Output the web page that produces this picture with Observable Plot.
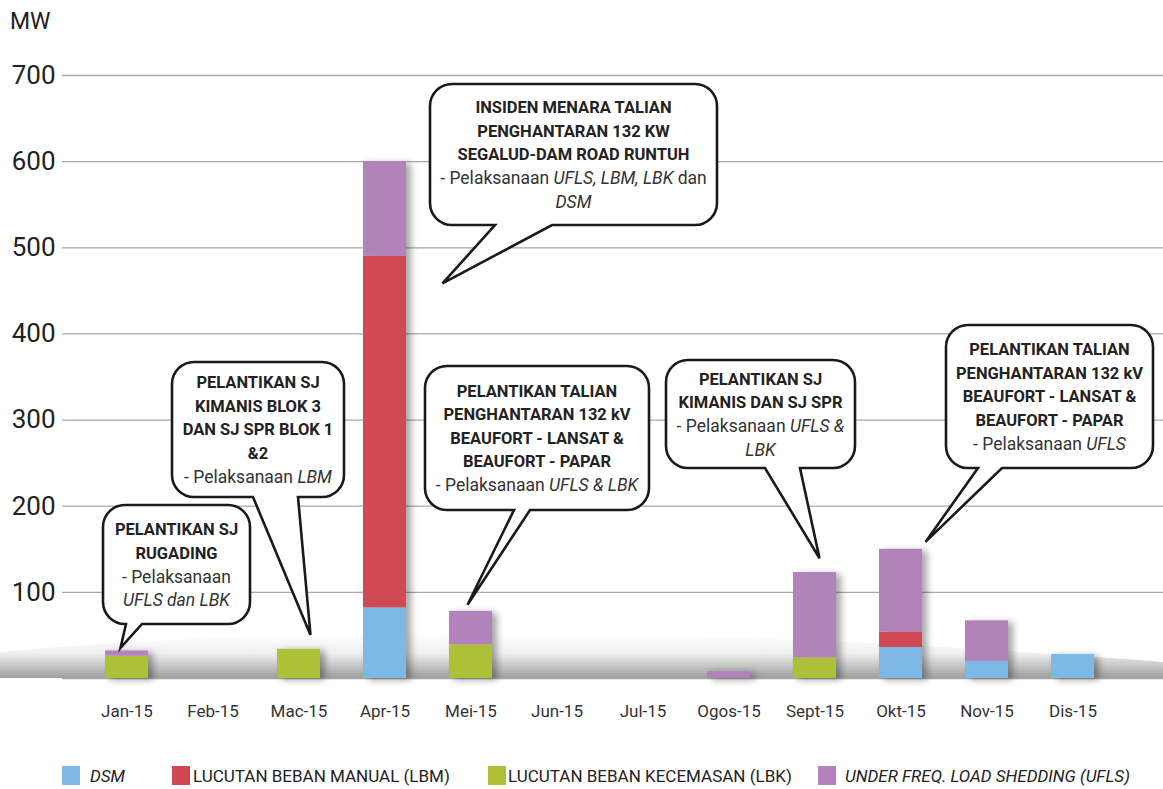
<!DOCTYPE html>
<html><head><meta charset="utf-8">
<script src="https://cdn.jsdelivr.net/npm/d3@7"></script>
<script src="https://cdn.jsdelivr.net/npm/@observablehq/plot@0.6"></script>
<style>
body{margin:0;background:#fff;font-family:Roboto,sans-serif;}
#wrap{position:relative;width:1163px;height:789px;overflow:hidden;}
#legend{position:absolute;left:0;top:755px;width:1163px;height:34px;}
.sw{position:absolute;top:11px;width:18px;height:19px;}
.lt{position:absolute;top:11px;font-size:17px;line-height:20px;color:#222;white-space:nowrap;}
</style></head><body>
<div id="wrap"><div id="chart"></div><div id="legend"></div></div>
<script>
// ---- data ----
const months = ["Jan-15","Feb-15","Mac-15","Apr-15","Mei-15","Jun-15","Jul-15","Ogos-15","Sept-15","Okt-15","Nov-15","Dis-15"];
const seriesNames = ["DSM","LBM","LBK","UFLS"];
const seriesColors = ["#7eb8e4","#d04854","#aec037","#b282ba"];
const dsm  = [0,0,0,82,0,0,0,0,0,36,20,28];
const lbm  = [0,0,0,408,0,0,0,0,0,18,0,0];
const lbk  = [26,0,34,0,39,0,0,0,24,0,0,0];
const ufls = [6,0,0,110,39,0,0,8,99,96,47,0];
const yTicks = [100,200,300,400,500,600,700];
const gridTicks = [0,100,200,300,400,500,600,700];
const unitLabel = "MW";
const legendLabels = ["DSM","LUCUTAN BEBAN MANUAL (LBM)","LUCUTAN BEBAN KECEMASAN (LBK)","UNDER FREQ. LOAD SHEDDING (UFLS)"];
const legendItalic = [true,false,false,true];

// callouts (tip anchored at month / MW value)
const calloutMonths = ["Jan-15","Mac-15","Apr-15","Mei-15","Sept-15","Okt-15"];
const calloutTipValues = [35,50,458,85,139,158];
const calloutTitles = [
  ["PELANTIKAN SJ","RUGADING"],
  ["PELANTIKAN SJ","KIMANIS BLOK 3","DAN SJ SPR BLOK 1","&2"],
  ["INSIDEN MENARA TALIAN","PENGHANTARAN 132 KW","SEGALUD-DAM ROAD RUNTUH"],
  ["PELANTIKAN TALIAN","PENGHANTARAN 132 kV","BEAUFORT - LANSAT &","BEAUFORT - PAPAR"],
  ["PELANTIKAN SJ","KIMANIS DAN SJ SPR"],
  ["PELANTIKAN TALIAN","PENGHANTARAN 132 kV","BEAUFORT - LANSAT &","BEAUFORT - PAPAR"]
];
const calloutDetails = [
  ["- Pelaksanaan","_UFLS dan LBK_"],
  ["- Pelaksanaan _LBM_"],
  ["- Pelaksanaan _UFLS, LBM, LBK_ dan","_DSM_"],
  ["- Pelaksanaan _UFLS & LBK_"],
  ["- Pelaksanaan _UFLS &_","_LBK_"],
  ["- Pelaksanaan _UFLS_"]
];

// ---- layout (pixels) ----
const calloutLayout = [
  {x0:103,y0:505,x1:250,y1:624,t0:126,t1:142,dx:-6},
  {x0:172,y0:362,x1:344,y1:497,t0:253,t1:298,dx:12},
  {x0:430,y0:84,x1:717,y1:225,t0:495,t1:552,dx:58},
  {x0:425,y0:366,x1:649,y1:510,t0:514,t1:530,dx:-3},
  {x0:666,y0:360,x1:855,y1:468,t0:765,t1:800,dx:5},
  {x0:946,y0:325,x1:1153,y1:468,t0:978,t1:1002,dx:25}
];

const seriesValues = [dsm,lbm,lbk,ufls];
const rows = [];
months.forEach((m,i)=>seriesNames.forEach((s,j)=>{
  if (seriesValues[j][i] > 0) rows.push({month:m, series:s, value:seriesValues[j][i]});
}));

const chart = Plot.plot({
  width:1163, height:755,
  marginLeft:62, marginRight:0, marginTop:75, marginBottom:77,
  style:{fontFamily:"Roboto, sans-serif", background:"transparent", color:"#333", overflow:"visible"},
  x:{domain:months, range:[82,1116], paddingInner:0.5, paddingOuter:0.25, label:null},
  y:{domain:[0,700], label:null},
  color:{domain:seriesNames, range:seriesColors},
  marks:[
    Plot.gridY(gridTicks, {stroke:"#a8a8a8", strokeOpacity:1, strokeWidth:1.3}),
    Plot.barY(rows, {x:"month", y:"value", fill:"series"}),
    Plot.axisX({tickSize:0, tickPadding:26, fontSize:17, color:"#333", label:null}),
    Plot.axisY(yTicks, {tickSize:0, tickPadding:7, fontSize:26, color:"#222", label:null})
  ]
});
document.getElementById("chart").appendChild(chart);

const svg = d3.select(chart);
const xs = chart.scale("x"), ys = chart.scale("y");
const defs = svg.append("defs");
const f = defs.append("filter").attr("id","barShadow").attr("x","-20%").attr("y","-10%").attr("width","160%").attr("height","130%");
f.append("feDropShadow").attr("dx",5).attr("dy",2).attr("stdDeviation",3.5).attr("flood-color","#000").attr("flood-opacity",0.35);
svg.selectAll('g[aria-label="bar"]').attr("filter","url(#barShadow)");

// floor shadow
const lg = defs.append("linearGradient").attr("id","floorGrad").attr("x1",0).attr("y1",0).attr("x2",0).attr("y2",1);
lg.append("stop").attr("offset",0).attr("stop-color","#000").attr("stop-opacity",0);
lg.append("stop").attr("offset",0.45).attr("stop-color","#000").attr("stop-opacity",0.06);
lg.append("stop").attr("offset",1).attr("stop-color","#000").attr("stop-opacity",0.38);
const y0 = ys.apply(0);
svg.insert("path",'g[aria-label="y-grid"]')
  .attr("d",`M0,${y0-26} C300,${y0-54} 700,${y0-52} 1163,${y0-16} L1163,${y0} L0,${y0} Z`)
  .attr("fill","url(#floorGrad)");

// unit label
svg.append("text").attr("x",10).attr("y",29).attr("text-anchor","start").attr("font-size",23).attr("fill","#222").text(unitLabel);

// callouts
const g = svg.append("g");
calloutLayout.forEach((b,i)=>{
  const tx = xs.apply(calloutMonths[i]) + xs.bandwidth/2 + b.dx;
  const ty = ys.apply(calloutTipValues[i]);
  const r = 22;
  const d = `M${b.x0+r},${b.y0} H${b.x1-r} A${r},${r} 0 0 1 ${b.x1},${b.y0+r} V${b.y1-r} A${r},${r} 0 0 1 ${b.x1-r},${b.y1} H${b.t1} L${tx},${ty} L${b.t0},${b.y1} H${b.x0+r} A${r},${r} 0 0 1 ${b.x0},${b.y1-r} V${b.y0+r} A${r},${r} 0 0 1 ${b.x0+r},${b.y0} Z`;
  g.append("path").attr("d",d).attr("fill","#fff").attr("stroke","#1a1a1a").attr("stroke-width",2.6).attr("stroke-linejoin","miter");
  const lines = calloutTitles[i].map(t=>({bold:true,t})).concat(calloutDetails[i].map(t=>({bold:false,t})));
  const lh = 23.5, cx = (b.x0+b.x1)/2, cy = (b.y0+b.y1)/2;
  lines.forEach((ln,k)=>{
    const y = cy - (lines.length-1)*lh/2 + k*lh;
    const tEl = g.append("text").attr("x",cx).attr("y",y).attr("dy","0.36em").attr("text-anchor","middle")
      .attr("fill", ln.bold ? "#222" : "#333");
    if (ln.bold) { tEl.attr("font-size",16.5).attr("font-weight","bold").text(ln.t); }
    else {
      tEl.attr("font-size",17.5);
      ln.t.split("_").forEach((seg,si)=>{ if (seg) tEl.append("tspan").attr("font-style", si%2 ? "italic":"normal").text(seg); });
    }
  });
});

// legend
const legendPos = [[62,90],[172,193],[488,508],[818,845]];
const leg = d3.select("#legend");
legendLabels.forEach((lab,i)=>{
  leg.append("div").attr("class","sw").style("left",legendPos[i][0]+"px").style("background",seriesColors[i]);
  leg.append("div").attr("class","lt").style("left",legendPos[i][1]+"px").style("font-style",legendItalic[i]?"italic":"normal").text(lab);
});
</script></body></html>
